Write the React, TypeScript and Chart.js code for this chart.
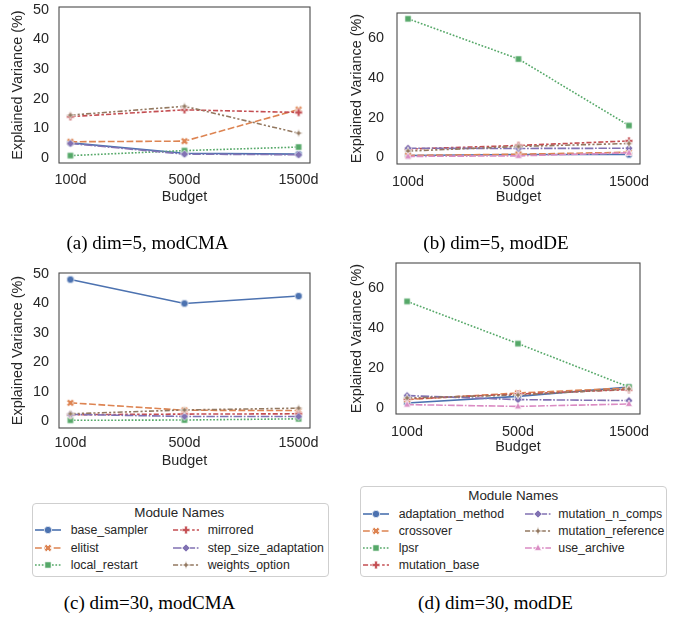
import React, { useEffect, useRef } from "react";
import { Chart, registerables } from "chart.js";
Chart.register(...registerables);

// ---------------- data ----------------
const budgets = ["100d", "500d", "1500d"];
const cmaModules = ["base_sampler", "elitist", "local_restart", "mirrored", "step_size_adaptation", "weights_option"];
const deModules = ["adaptation_method", "crossover", "lpsr", "mutation_base", "mutation_n_comps", "mutation_reference", "use_archive"];

// rows follow cmaModules order, columns follow budgets
const dim5CmaBaseSampler = [5.0, 1.5, 1.2];
const dim5CmaElitist = [5.4, 5.6, 16.3];
const dim5CmaLocalRestart = [0.7, 2.4, 3.6];
const dim5CmaMirrored = [13.9, 16.2, 15.3];
const dim5CmaStepSize = [4.8, 1.2, 1.0];
const dim5CmaWeights = [14.4, 17.4, 8.3];

const dim30CmaBaseSampler = [48.0, 39.9, 42.4];
const dim30CmaElitist = [6.3, 3.8, 3.7];
const dim30CmaLocalRestart = [0.4, 0.5, 0.9];
const dim30CmaMirrored = [2.3, 2.5, 2.6];
const dim30CmaStepSize = [2.4, 1.7, 1.7];
const dim30CmaWeights = [2.6, 3.9, 4.5];

// rows follow deModules order
const dim5DeAdaptation = [1.0, 1.5, 1.5];
const dim5DeCrossover = [1.0, 1.6, 2.6];
const dim5DeLpsr = [69.6, 49.4, 16.0];
const dim5DeMutationBase = [4.2, 6.0, 8.3];
const dim5DeNComps = [4.6, 4.5, 4.6];
const dim5DeReference = [3.2, 5.5, 7.0];
const dim5DeArchive = [0.5, 0.8, 2.3];

const dim30DeAdaptation = [2.5, 5.8, 10.5];
const dim30DeCrossover = [4.2, 7.5, 10.0];
const dim30DeLpsr = [53.3, 32.2, 10.5];
const dim30DeMutationBase = [4.5, 7.0, 9.2];
const dim30DeNComps = [6.2, 4.2, 3.7];
const dim30DeReference = [5.0, 6.5, 9.5];
const dim30DeArchive = [1.7, 0.8, 2.0];

const cmaTicks = [0, 10, 20, 30, 40, 50];
const deTicks = [0, 20, 40, 60];

// ---------------- styles ----------------
const palette = ["#4C72B0", "#DD8452", "#55A868", "#C44E52", "#8172B3", "#937860", "#DA8BC3"];
const markerShapes = ["circle", "x", "square", "plus", "diamond", "star", "triangle"];
const dashPatterns = [
  [],
  [4, 1.5],
  [1, 1],
  [3, 1.25, 1.5, 1.25],
  [5, 1, 1, 1],
  [3, 1.25, 1.25, 1.25, 1.25, 1.25],
  [4, 1, 4, 1, 1, 1],
];
const DASH_SCALE = 1.7;
const LINE_W = 1.6;
const FONT = "'Liberation Sans', Arial, Helvetica, sans-serif";
const SERIF = "'Liberation Serif', 'Times New Roman', Times, serif";
const TEXT = "#262626";
const AXIS_FONT = 14.4;

function drawMarker(ctx: CanvasRenderingContext2D, shape: string, cx: number, cy: number, r: number, color: string) {
  ctx.save();
  ctx.translate(cx, cy);
  ctx.beginPath();
  if (shape === "circle") {
    ctx.arc(0, 0, r, 0, Math.PI * 2);
  } else if (shape === "square") {
    const s = r * 0.85;
    ctx.rect(-s, -s, 2 * s, 2 * s);
  } else if (shape === "diamond") {
    const s = r * 1.1;
    ctx.moveTo(0, -s);
    ctx.lineTo(s, 0);
    ctx.lineTo(0, s);
    ctx.lineTo(-s, 0);
    ctx.closePath();
  } else if (shape === "triangle") {
    ctx.moveTo(0, -r * 1.05);
    ctx.lineTo(r * 0.95, r * 0.65);
    ctx.lineTo(-r * 0.95, r * 0.65);
    ctx.closePath();
  } else if (shape === "star") {
    for (let i = 0; i < 8; i++) {
      const ang = -Math.PI / 2 + (i * Math.PI) / 4;
      const rr = i % 2 === 0 ? r * 1.15 : r * 0.45;
      const x = Math.cos(ang) * rr;
      const y = Math.sin(ang) * rr;
      if (i === 0) ctx.moveTo(x, y);
      else ctx.lineTo(x, y);
    }
    ctx.closePath();
  } else {
    if (shape === "x") ctx.rotate(Math.PI / 4);
    const a = r * 1.05;
    const w = r * 0.38;
    const pts = [
      [-w, -a], [w, -a], [w, -w], [a, -w], [a, w], [w, w],
      [w, a], [-w, a], [-w, w], [-a, w], [-a, -w], [-w, -w],
    ];
    pts.forEach((p, i) => (i === 0 ? ctx.moveTo(p[0], p[1]) : ctx.lineTo(p[0], p[1])));
    ctx.closePath();
  }
  ctx.fillStyle = color;
  ctx.fill();
  ctx.lineWidth = 0.7;
  ctx.strokeStyle = "#ffffff";
  ctx.stroke();
  ctx.restore();
}

function makeMarker(shape: string, color: string): HTMLCanvasElement {
  const c = document.createElement("canvas");
  c.width = 10;
  c.height = 10;
  const ctx = c.getContext("2d")!;
  drawMarker(ctx, shape, 5, 5, 3.7, color);
  return c;
}

const framePlugin = {
  id: "frame",
  afterDatasetsDraw(chart: any) {
    const { ctx, chartArea } = chart;
    ctx.save();
    ctx.strokeStyle = "#4a4a4a";
    ctx.lineWidth = 1.1;
    ctx.strokeRect(chartArea.left, chartArea.top, chartArea.right - chartArea.left, chartArea.bottom - chartArea.top);
    ctx.restore();
  },
};

type PanelCfg = {
  left: number; top: number; w: number; h: number;
  area: { l: number; t: number; r: number; b: number };
  modules: string[];
  series: number[][];
  yMin: number; yMax: number; yTicks: number[];
  yTickPad: number; yTitleX: number; xTickCenter: number; xTitleCenter: number;
};

function Panel({ cfg }: { cfg: PanelCfg }) {
  const ref = useRef<HTMLCanvasElement>(null);
  useEffect(() => {
    const lh = AXIS_FONT * 1.2;
    const xTickPad = cfg.xTickCenter - cfg.area.b - lh / 2;
    const xTitlePad = cfg.h - lh / 2 - cfg.xTitleCenter;
    const chart = new Chart(ref.current!, {
      type: "line",
      data: {
        datasets: cfg.modules.map((name, i) => ({
          label: name,
          data: cfg.series[i].map((v, j) => ({ x: j, y: v })),
          borderColor: palette[i],
          backgroundColor: palette[i],
          borderWidth: LINE_W,
          borderDash: dashPatterns[i].map((d) => d * DASH_SCALE),
          pointStyle: makeMarker(markerShapes[i], palette[i]) as any,
          pointRadius: 4,
          tension: 0,
          clip: false as any,
          order: -i,
        })),
      },
      options: {
        animation: false,
        responsive: false,
        layout: { padding: { left: 0, top: cfg.area.t, right: cfg.w - cfg.area.r, bottom: 0 } },
        plugins: { legend: { display: false }, tooltip: { enabled: false } },
        scales: {
          x: {
            type: "linear",
            min: -0.1,
            max: 2.1,
            bounds: "data",
            grid: { display: false, drawTicks: false, tickLength: 0 },
            border: { display: false },
            afterBuildTicks: (s: any) => {
              s.ticks = budgets.map((_, j) => ({ value: j }));
            },
            afterFit: (s: any) => {
              s.height = cfg.h - cfg.area.b;
              s.paddingLeft = 0;
              s.paddingRight = 0;
            },
            ticks: {
              callback: (v: any) => budgets[v] ?? "",
              padding: xTickPad,
              font: { size: AXIS_FONT, family: FONT },
              color: TEXT,
              maxRotation: 0,
              autoSkip: false,
            },
            title: {
              display: true,
              text: "Budget",
              font: { size: AXIS_FONT, family: FONT },
              color: TEXT,
              padding: { top: 0, bottom: xTitlePad },
            },
          },
          y: {
            type: "linear",
            min: cfg.yMin,
            max: cfg.yMax,
            bounds: "data",
            grid: { display: false, drawTicks: false, tickLength: 0 },
            border: { display: false },
            afterBuildTicks: (s: any) => {
              s.ticks = cfg.yTicks.map((v) => ({ value: v }));
            },
            afterFit: (s: any) => {
              s.width = cfg.area.l;
              s.paddingTop = 0;
              s.paddingBottom = 0;
            },
            ticks: {
              callback: (v: any) => String(v),
              padding: cfg.yTickPad,
              font: { size: AXIS_FONT, family: FONT },
              color: TEXT,
            },
            title: {
              display: true,
              text: "Explained Variance (%)",
              font: { size: AXIS_FONT, family: FONT },
              color: TEXT,
              padding: { top: cfg.yTitleX - lh / 2, bottom: 0 },
            },
          },
        },
      },
      plugins: [framePlugin],
    } as any);
    return () => chart.destroy();
  }, []);
  return (
    <canvas
      ref={ref}
      width={cfg.w}
      height={cfg.h}
      style={{ position: "absolute", left: cfg.left, top: cfg.top, width: cfg.w, height: cfg.h, display: "block" }}
    />
  );
}

function LegendHandle({ idx, left, cy, w }: { idx: number; left: number; cy: number; w: number }) {
  const ref = useRef<HTMLCanvasElement>(null);
  useEffect(() => {
    const ctx = ref.current!.getContext("2d")!;
    ctx.clearRect(0, 0, w, 12);
    ctx.save();
    ctx.strokeStyle = palette[idx];
    ctx.lineWidth = LINE_W;
    ctx.setLineDash(dashPatterns[idx].map((d) => d * DASH_SCALE));
    ctx.beginPath();
    ctx.moveTo(0, 6);
    ctx.lineTo(w, 6);
    ctx.stroke();
    ctx.restore();
    drawMarker(ctx, markerShapes[idx], w / 2, 6, 3.7, palette[idx]);
  }, []);
  return (
    <canvas ref={ref} width={w} height={12} style={{ position: "absolute", left, top: cy - 6, width: w, height: 12 }} />
  );
}

type LegendItem = { name: string; idx: number; col: number; row: number };

function Legend(props: {
  box: { l: number; t: number; w: number; h: number };
  titleX: number; titleY: number;
  rows: number[];
  handleX: number[]; textX: number[];
  items: LegendItem[];
}) {
  const { box, titleX, titleY, rows, handleX, textX, items } = props;
  return (
    <>
      <div
        style={{
          position: "absolute", left: box.l, top: box.t, width: box.w, height: box.h,
          border: "1px solid #cfcfcf", borderRadius: 4, boxSizing: "border-box", background: "#fff",
        }}
      />
      <div
        style={{
          position: "absolute", left: titleX - 100, width: 200, top: titleY - 10, height: 20, lineHeight: "20px",
          textAlign: "center", fontFamily: FONT, fontSize: 13.4, color: TEXT, whiteSpace: "nowrap",
        }}
      >
        Module Names
      </div>
      {items.map((it) => (
        <React.Fragment key={it.name}>
          <LegendHandle idx={it.idx} left={handleX[it.col]} cy={rows[it.row]} w={26} />
          <div
            style={{
              position: "absolute", left: textX[it.col], top: rows[it.row] - 9, height: 18, lineHeight: "18px",
              fontFamily: FONT, fontSize: 12.3, color: TEXT, whiteSpace: "nowrap",
            }}
          >
            {it.name}
          </div>
        </React.Fragment>
      ))}
    </>
  );
}

function Caption({ text, cx, cy }: { text: string; cx: number; cy: number }) {
  return (
    <div
      style={{
        position: "absolute", left: cx - 150, width: 300, top: cy - 11, height: 22, lineHeight: "22px",
        textAlign: "center", fontFamily: SERIF, fontSize: 19, color: "#000", whiteSpace: "nowrap",
      }}
    >
      {text}
    </div>
  );
}

const panels: PanelCfg[] = [
  {
    left: 0, top: 0, w: 340, h: 215,
    area: { l: 59, t: 7, r: 310, b: 163 },
    modules: cmaModules,
    series: [dim5CmaBaseSampler, dim5CmaElitist, dim5CmaLocalRestart, dim5CmaMirrored, dim5CmaStepSize, dim5CmaWeights],
    yMin: -1.8, yMax: 51, yTicks: cmaTicks,
    yTickPad: 10, yTitleX: 18, xTickCenter: 180.5, xTitleCenter: 197,
  },
  {
    left: 340, top: 0, w: 338, h: 215,
    area: { l: 57, t: 13, r: 300, b: 164 },
    modules: deModules,
    series: [dim5DeAdaptation, dim5DeCrossover, dim5DeLpsr, dim5DeMutationBase, dim5DeNComps, dim5DeReference, dim5DeArchive],
    yMin: -3.3, yMax: 72.5, yTicks: deTicks,
    yTickPad: 13, yTitleX: 17, xTickCenter: 181.7, xTitleCenter: 197.3,
  },
  {
    left: 0, top: 250, w: 340, h: 230,
    area: { l: 59, t: 23, r: 310, b: 178 },
    modules: cmaModules,
    series: [dim30CmaBaseSampler, dim30CmaElitist, dim30CmaLocalRestart, dim30CmaMirrored, dim30CmaStepSize, dim30CmaWeights],
    yMin: -2.2, yMax: 50.2, yTicks: cmaTicks,
    yTickPad: 10, yTitleX: 18, xTickCenter: 193.3, xTitleCenter: 211,
  },
  {
    left: 340, top: 250, w: 338, h: 215,
    area: { l: 56, t: 13, r: 300, b: 164 },
    modules: deModules,
    series: [dim30DeAdaptation, dim30DeCrossover, dim30DeLpsr, dim30DeMutationBase, dim30DeNComps, dim30DeReference, dim30DeArchive],
    yMin: -3.0, yMax: 72.5, yTicks: deTicks,
    yTickPad: 12, yTitleX: 17, xTickCenter: 181.7, xTitleCenter: 197.3,
  },
];

export default function App() {
  const cmaItems: LegendItem[] = cmaModules.map((name, i) => ({ name, idx: i, col: i < 3 ? 0 : 1, row: i % 3 }));
  const deItems: LegendItem[] = deModules.map((name, i) => ({ name, idx: i, col: i < 4 ? 0 : 1, row: i < 4 ? i : i - 4 }));
  return (
    <div style={{ position: "absolute", left: 0, top: 0, width: 678, height: 625, background: "#fff", overflow: "hidden" }}>
      {panels.map((p, i) => (
        <Panel key={i} cfg={p} />
      ))}
      <Caption text="(a) dim=5, modCMA" cx={147.5} cy={243} />
      <Caption text="(b) dim=5, modDE" cx={496} cy={243} />
      <Legend
        box={{ l: 32, t: 503, w: 297, h: 74 }}
        titleX={179.3} titleY={512.7}
        rows={[530.3, 547.7, 565.3]}
        handleX={[35, 172.7]} textX={[70.7, 207.7]}
        items={cmaItems}
      />
      <Legend
        box={{ l: 360, t: 486, w: 307, h: 91 }}
        titleX={513.3} titleY={496}
        rows={[513.7, 531, 548, 565.3]}
        handleX={[363.3, 525]} textX={[398.7, 558.3]}
        items={deItems}
      />
      <Caption text="(c) dim=30, modCMA" cx={149.5} cy={603} />
      <Caption text="(d) dim=30, modDE" cx={495.5} cy={603} />
    </div>
  );
}
